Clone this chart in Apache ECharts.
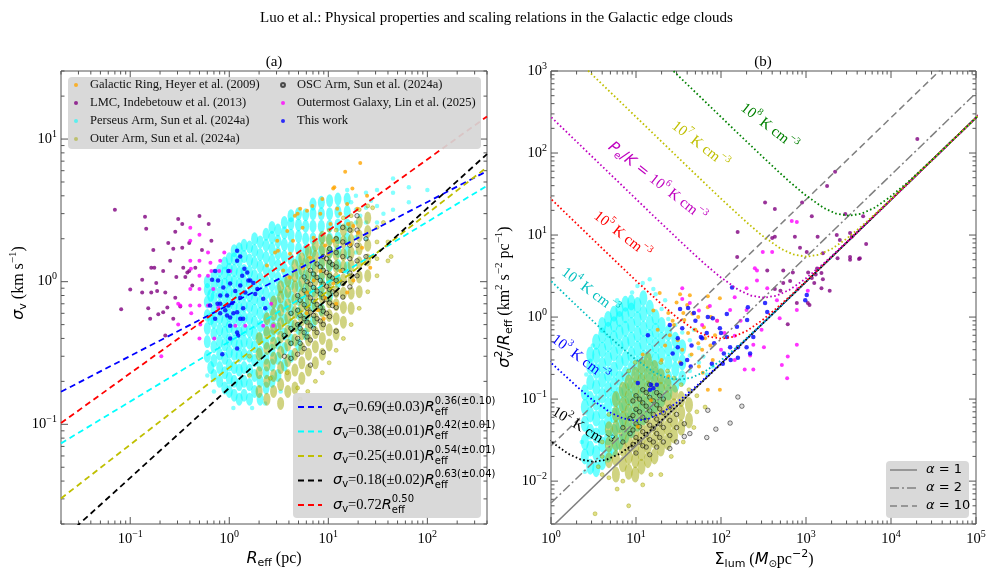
<!DOCTYPE html>
<html>
<head>
<meta charset="utf-8">
<title>Galactic edge clouds - scaling relations</title>
<script src="https://cdn.jsdelivr.net/npm/echarts@6/dist/echarts.min.js"></script>
<style>
  html, body { margin: 0; padding: 0; background: #fff; }
  #chart { width: 993px; height: 577px; }
</style>
</head>
<body>
<div id="chart"></div>
<script>
// ---------- panel (a): R_eff (pc) vs sigma_v (km/s) ----------
const ringA = [[21,6.8],[14.8,5.9],[11.5,4.6],[17.5,4.5],[8.7,3.8],[24.6,4.0],[6.9,3.4],[5.2,3.24],[12.3,3.24],[19.6,3.24],
  [4.6,2.9],[8.3,3.0],[13.2,3.0],[3.85,2.27],[5.5,2.39],[10.5,2.54],[17.9,2.46],[3.05,1.94],[4.4,1.94],[7.1,2.03],
  [11.2,1.94],[16.7,1.84],[2.9,1.6],[4.1,1.57],[6.6,1.47],[10,1.57],[21.9,1.73],[5.6,1.25],[8.3,1.19],[13.2,1.19],
  [4.1,1.07],[7.1,1.02],[11.2,0.97],[17.9,1.02],[26.5,1.25],[6.1,0.84],[9.3,0.77],[15.5,0.84],[7.9,0.63],[11.2,4.5],
  [6.1,3.14],[4.9,3.0],[3.1,1.65],[9.3,1.79],[15.5,3.5],[15.8,2.54],[9,0.55],[6,0.6],[12,0.7],[2.4,1.3],[3.5,1.2],[20,2.2]];
const lmcA = [[0.07,3.2],[0.081,0.64],[0.141,2.85],[0.145,2.35],[0.305,2.75],[0.335,2.54],[0.5,2.89],[0.62,2.54],[0.285,2.24],
  [0.242,1.87],[0.394,1.87],[0.171,1.67],[0.272,1.7],[0.335,1.73],[0.66,1.94],[0.53,1.67],[0.163,1.25],[0.175,1.25],
  [0.215,1.19],[0.253,1.4],[0.343,1.25],[0.36,1.08],[0.292,1.08],[0.132,1.03],[0.132,0.84],[0.1,0.88],[0.163,0.84],
  [0.187,0.86],[0.226,0.84],[0.394,1.19],[0.423,0.94],[0.152,0.65],[0.159,0.55],[0.192,0.59],[0.215,0.61],[0.226,0.42],
  [0.32,0.67],[0.237,0.66],[0.272,0.55],[0.454,1.25],[0.377,1.16],[0.183,0.98],[0.285,0.77]];
const outermostA = [[0.404,2.39],[0.404,1.94],[0.5,2.13],[0.61,1.6],[0.404,1.4],[0.5,1.4],[0.41,1.23],[0.5,1.1],[0.61,1.1],
  [0.404,0.89],[0.5,0.89],[0.69,0.89],[0.66,1.19],[0.79,1.19],[1.02,1.19],[0.32,0.68],[0.404,0.68],[0.5,0.68],[0.61,0.68],
  [0.89,1.6],[0.645,1.36],[0.81,1.4],[2.65,0.7],[0.305,0.5],[0.413,0.6],[0.51,0.5],[0.5,0.4],[0.705,0.4],[0.305,0.7],
  [0.206,0.3],[1.15,0.49],[1.45,0.49],[2.78,0.49],[2.2,0.49],[0.775,0.66]];
const thisWorkA = [[1.2,1.65],[1.29,1.5],[1.2,1.4],[0.72,1.19],[0.98,1.19],[1.42,1.23],[1.52,1.16],[1.35,1.1],[1.63,1.02],
  [1.75,0.98],[1.02,0.97],[0.87,0.91],[1.15,0.86],[1.45,0.84],[1.92,0.89],[0.81,0.8],[0.95,0.8],[1.29,0.77],[1.07,0.71],
  [0.76,0.7],[0.64,0.68],[0.91,0.63],[1.2,0.61],[1.38,0.65],[2.2,0.76],[2.31,0.65],[1.83,0.82],[0.81,0.6],[1.02,0.56],
  [1.29,0.55],[0.81,0.7],[0.95,0.58],[1.1,0.6],[1.38,0.55],[1.02,0.49],[1.2,0.44],[1.23,0.42],[1.02,0.4],[0.85,0.31],
  [1.2,0.34],[0.72,0.55],[0.98,0.68],[0.67,1.03],[0.77,1.02],[1.56,1.02],[1.29,0.94]];
// dense clouds, stored as columns: [R, [sigma values]]; sparse edge points kept apart
const perseusColsA = [
  [0.6,[0.3,0.38,0.47,0.58,0.72,0.88,1.0]], [0.65,[0.25,0.55,0.8]],
  [0.7,[0.22,0.28,0.35,0.43,0.52,0.63,0.77,0.93,1.1]],
  [0.8,[0.2,0.25,0.31,0.38,0.46,0.56,0.68,0.83,1.0,1.2]],
  [0.9,[0.18,0.23,0.29,0.36,0.44,0.53,0.65,0.79,0.96,1.15,1.35]],
  [1.0,[0.17,0.21,0.26,0.32,0.39,0.48,0.58,0.7,0.85,1.02,1.22,1.45]],
  [1.12,[0.16,0.2,0.25,0.31,0.38,0.46,0.56,0.68,0.82,1.0,1.2,1.45,1.65]],
  [1.26,[0.15,0.19,0.24,0.3,0.36,0.44,0.54,0.65,0.79,0.95,1.15,1.4,1.7]],
  [1.41,[0.16,0.2,0.25,0.31,0.38,0.46,0.56,0.68,0.82,1.0,1.2,1.5,1.8]],
  [1.6,[0.15,0.19,0.24,0.3,0.37,0.45,0.55,0.67,0.8,0.97,1.17,1.42,1.75]],
  [1.8,[0.17,0.22,0.28,0.35,0.43,0.52,0.63,0.76,0.92,1.1,1.35,1.65,2.0]],
  [2.05,[0.15,0.2,0.26,0.32,0.4,0.49,0.6,0.72,0.87,1.05,1.28,1.55,1.9]],
  [2.35,[0.18,0.23,0.29,0.37,0.46,0.56,0.68,0.83,1.0,1.22,1.48,1.8,2.15]],
  [2.7,[0.2,0.26,0.33,0.42,0.52,0.64,0.78,0.95,1.15,1.4,1.7,2.05,2.4]],
  [3.1,[0.22,0.29,0.37,0.47,0.58,0.71,0.87,1.06,1.3,1.58,1.92,2.3]],
  [3.6,[0.26,0.34,0.43,0.54,0.67,0.82,1.0,1.22,1.5,1.82,2.2,2.6]],
  [4.2,[0.3,0.39,0.5,0.63,0.78,0.96,1.17,1.43,1.75,2.12,2.55,2.9]],
  [5.0,[0.36,0.47,0.6,0.75,0.93,1.14,1.4,1.7,2.07,2.5,3.0]],
  [5.9,[0.43,0.56,0.71,0.89,1.1,1.35,1.65,2.0,2.45,2.95]],
  [7.0,[0.52,0.68,0.86,1.08,1.33,1.63,2.0,2.45,3.0,3.5]],
  [8.5,[0.64,0.83,1.05,1.32,1.63,2.0,2.45,3.0,3.6]],
  [10.3,[0.8,1.03,1.3,1.62,2.0,2.45,3.0,3.7]],
  [12.5,[1.0,1.3,1.63,2.03,2.5,3.1,3.8]],
  [15.5,[1.25,1.6,2.0,2.5,3.1,3.8]]
];
const perseusSparseA = [[15.5,4.4],[19,1.6],[19,2.05],[19,2.6],[19,3.2],[19,4.0],[24,2.0],[24,2.6],[24,3.3],[24,4.2],
  [31,2.6],[31,3.4],[31,4.4],[45,3.2],[45,4.2],[45,5.3],[65,3.6],[65,4.6],[100,4.4],[17,3.6],[21,2.9],[27,3.7],[36,3.0],
  [0.6,0.22],[0.7,0.17],[1.1,0.13],[1.7,0.13],[2.3,0.14],[3.3,0.17]];
const outerColsA = [
  [2.0,[0.17,0.23,0.31,0.4]], [2.4,[0.15,0.2,0.26,0.34,0.44,0.55]],
  [2.8,[0.17,0.22,0.29,0.37,0.47,0.59,0.72]],
  [3.3,[0.14,0.19,0.25,0.32,0.41,0.51,0.63,0.78,0.92]],
  [3.9,[0.17,0.22,0.28,0.36,0.45,0.56,0.69,0.85,1.02]],
  [4.6,[0.18,0.24,0.31,0.39,0.49,0.61,0.75,0.92,1.1,1.3]],
  [5.4,[0.21,0.27,0.34,0.43,0.54,0.67,0.82,1.0,1.22,1.45]],
  [6.3,[0.24,0.31,0.39,0.49,0.61,0.75,0.92,1.12,1.36,1.62]],
  [7.4,[0.27,0.35,0.44,0.55,0.68,0.84,1.03,1.25,1.5,1.8]],
  [8.7,[0.31,0.4,0.5,0.62,0.77,0.94,1.15,1.4,1.7,2.05]],
  [10.2,[0.36,0.46,0.58,0.72,0.88,1.08,1.32,1.6,1.95]],
  [12,[0.43,0.55,0.69,0.85,1.05,1.28,1.56,1.9]],
  [14.2,[0.52,0.66,0.83,1.03,1.27,1.55,1.9,2.3]],
  [17,[0.65,0.83,1.04,1.3,1.6,1.95,2.4]],
  [20.5,[0.85,1.08,1.36,1.7,2.1,2.6]],
  [25,[1.1,1.42,1.8,2.25,2.8]]
];
const outerSparseA = [[1.6,0.22],[1.6,0.3],[40,1.4],[40,1.9],[31,1.1],[31,1.45],[31,1.9],[31,2.4],[5.2,0.15],[6.2,0.17],
  [7.4,0.2],[8.7,0.23],[10.2,0.27],[12,0.33],[14.2,0.4],[17,0.5],[20.5,0.65],[25,0.85],[10.2,2.3],[12,2.3],[14.2,2.8],
  [17,2.9],[20.5,3.2],[25,3.4],[28,3.3],[36,2.6],[43,1.5],[4.9,0.18],[3.85,0.23],[2.6,0.21]];
const oscColsA = [
  [3.6,[0.3,0.42]], [4.2,[0.29,0.37,0.47,0.6]], [4.9,[0.31,0.4,0.5,0.63,0.8]],
  [5.7,[0.34,0.44,0.55,0.69,0.87,1.08]], [6.6,[0.26,0.39,0.49,0.61,0.77,0.96,1.2]],
  [7.7,[0.44,0.55,0.69,0.86,1.07,1.33]], [8.9,[0.32,0.5,0.62,0.77,0.96,1.2,1.5]],
  [10.3,[0.57,0.71,0.88,1.1,1.37,1.7]], [12,[0.45,0.66,0.82,1.02,1.27,1.6,2.0]],
  [14,[0.78,0.97,1.2,1.5,1.9,2.4]], [16.5,[0.92,1.15,1.45,1.8,2.3]],
  [19.5,[1.1,1.4,1.8,2.3,2.9]], [24,[1.5,2.0]],
  [5.2,[0.37,0.47,0.58,0.74]], [6.1,[0.41,0.52,0.65,0.82,1.0]], [7.1,[0.47,0.58,0.73,0.91,1.13]],
  [8.3,[0.53,0.66,0.82,1.02,1.27]], [9.6,[0.6,0.75,0.93,1.16,1.45]], [11,[0.68,0.85,1.06,1.32]]
];
// fitted relations, end points of each dashed line
const fitThis = [[0.02,0.169],[400,5.96]];
const fitPerseus = [[0.02,0.0735],[400,4.70]];
const fitOuter = [[0.02,0.0302],[400,6.35]];
const fitOsc = [[0.02,0.0153],[400,7.85]];
const fitLarson = [[0.02,0.102],[400,14.4]];

// ---------- panel (b): Sigma_lum vs sigma_v^2/R_eff ----------
const ringB = [[19,1.96],[43,1.85],[70,1.32],[97,1.7],[36,1.12],[54,1.0],[24,1.12],[37,0.92],[63,0.75],[76,1.0],[41,0.64],
  [54,0.48],[31,0.52],[20,0.3],[24,0.19],[15,0.097],[97,0.13],[70,0.13],[61,0.21],[28,0.8],[45,0.35],[33,0.28],[60,0.4],
  [85,0.6],[50,0.7],[25,0.6],[40,1.4],[65,0.55],[80,0.3],[30,1.5],[18,0.7],[22,0.45],[12,0.35],[90,0.9],[35,0.4],[46,1.1],
  [27,0.9],[55,0.25],[75,0.45],[16,1.2],[33,1.9],[70,1.8],[10.5,0.046]];
const lmcB = [[20400,148],[2200,59],[1770,39.5],[330,25],[900,25],[430,20.8],[1170,17],[2900,18],[4700,17],[157,10.9],
  [740,9.5],[430,9.5],[1370,9.5],[2300,10],[3300,10.6],[1020,6.2],[1580,6.0],[2350,5.2],[3300,5.4],[4300,5.2],[5100,7.8],
  [155,5.4],[350,3.7],[540,3.7],[650,2.75],[1060,3.5],[1170,3.0],[1580,2.9],[430,2.2],[1520,2.25],[1900,2.1],[1100,1.4],
  [780,1.48],[540,2.6],[500,2.1],[2500,8.7],[3450,9.5],[400,9.2],[700,3.5],[850,7],[3300,5.0],[4200,5.1],[1520,3.45],
  [610,0.82],[1050,1.48],[1300,3.3],[1250,2.6],[1350,3.9]];
const outermostB = [[780,14.4],[400,6.2],[250,3.95],[145,1.75],[265,2.8],[350,2.25],[455,1.6],[1050,2.1],[780,1.22],[490,0.97],
  [240,0.46],[780,0.46],[35,2.25],[35,1.66],[145,0.59],[680,14.8],[310,6.2],[200,2.25],[265,3.7],[800,2.2],[145,0.3],
  [190,0.23],[240,0.23],[520,0.26],[610,0.33],[600,0.18],[220,0.34],[320,0.43],[110,0.64],[43,1.48],[74,1.36],[128,1.22],
  [200,1.22],[90,0.9],[60,0.8],[170,0.9],[300,0.7],[100,0.4],[55,1.2]];
const thisWorkB = [[13.8,0.6],[31,0.43],[27,0.36],[34,0.27],[44,0.25],[58,0.57],[83,0.48],[100,0.64],[108,0.36],[130,0.3],
  [158,0.43],[15,0.15],[16,0.136],[10.5,0.157],[41,1.29],[35,0.73],[68,0.64],[97,0.73],[117,0.57],[154,0.76],[203,0.92],
  [240,0.57],[1020,1.86],[980,1.6],[350,1.15],[60,0.55],[128,0.43],[200,0.43],[33,1.25],[48,1.12],[80,0.97],[117,1.09],
  [135,2.3],[330,1.48],[207,1.32],[78,0.27],[105,0.27],[158,0.32],[220,0.36],[31,0.55],[40,0.3],[17.6,0.15],[14.6,0.13],
  [50,0.9],[70,1.0],[25,0.8],[45,0.45]];
const perseusColsB = [
  [2.5,[0.02,0.03,0.05,0.08,0.12]], [2.9,[0.015,0.025,0.04,0.065,0.1,0.16,0.25,0.35]],
  [3.4,[0.014,0.022,0.036,0.058,0.09,0.14,0.22,0.34,0.5]],
  [4.0,[0.017,0.028,0.045,0.07,0.11,0.17,0.26,0.4,0.6,0.8]],
  [4.7,[0.021,0.034,0.054,0.085,0.13,0.2,0.31,0.47,0.7,0.95]],
  [5.5,[0.025,0.04,0.063,0.1,0.15,0.23,0.36,0.55,0.82,1.1]],
  [6.4,[0.03,0.048,0.075,0.115,0.18,0.28,0.43,0.65,0.95,1.25]],
  [7.5,[0.036,0.056,0.087,0.13,0.2,0.31,0.48,0.72,1.05,1.45]],
  [8.8,[0.042,0.065,0.1,0.15,0.23,0.35,0.53,0.8,1.2,1.5]],
  [10.4,[0.05,0.077,0.12,0.18,0.27,0.41,0.62,0.94,1.4]],
  [12.2,[0.06,0.09,0.14,0.21,0.32,0.48,0.72,1.1,1.7]],
  [14.5,[0.072,0.11,0.17,0.25,0.38,0.57,0.85,1.3]],
  [17,[0.085,0.13,0.2,0.3,0.45,0.68,1.0]],
  [20,[0.1,0.15,0.23,0.35,0.53,0.8]],
  [24,[0.12,0.18,0.28,0.42,0.64]], [29,[0.15,0.23,0.35,0.53]],
  [35,[0.18,0.28,0.43]]
];
const perseusSparseB = [[68,0.2],[55,0.28],[55,0.42],[43,0.22],[43,0.34],[43,0.52],[10.4,2.4],[14.5,2.9],[17,1.9],
  [2.5,0.013],[20,1.25],[24,0.95],[29,0.8],[35,0.65],[12,2.6],[16,2.2],[9,2.0],[22,1.6],[2.3,0.03],[2.6,0.2],
  [3.1,0.45],[6,1.6],[48,0.7],[62,0.33],[80,0.25]];
const outerColsB = [
  [4.8,[0.018,0.028,0.043]],
  [5.8,[0.012,0.019,0.029,0.044,0.066,0.1]], [7,[0.016,0.025,0.038,0.057,0.085,0.13]],
  [8.2,[0.013,0.02,0.031,0.047,0.07,0.105,0.16]],
  [9.8,[0.012,0.018,0.027,0.04,0.06,0.09,0.135,0.2]],
  [11.6,[0.015,0.022,0.033,0.05,0.074,0.11,0.165,0.25]],
  [13.8,[0.018,0.027,0.04,0.06,0.09,0.135,0.2,0.3]],
  [16.5,[0.02,0.031,0.047,0.07,0.105,0.16,0.24]],
  [19.6,[0.025,0.038,0.057,0.085,0.13,0.19]],
  [23.5,[0.03,0.045,0.068,0.1,0.15]], [28,[0.036,0.054,0.082,0.12]],
  [34,[0.045,0.068,0.1]], [42,[0.055,0.085]]
];
const outerSparseB = [[3.3,0.004],[8.2,0.005],[19.6,0.012],[65,0.08],[52,0.07],[52,0.11],[4,0.012],[4,0.02],[4,0.03],
  [4.8,0.011],[4.8,0.065],[7,0.01],[8.2,0.22],[9.8,0.28],[19.6,0.28],[23.5,0.22],[28,0.18],[34,0.15],[42,0.13],
  [6,0.008],[12,0.009],[15,0.012],[26,0.02],[36,0.03],[48,0.045],[3.6,0.015]];
const oscColsB = [
  [7,[0.03,0.045]], [8.5,[0.025,0.038,0.058]], [10,[0.022,0.034,0.05,0.075,0.11]],
  [12,[0.027,0.04,0.06,0.09,0.13]], [14.5,[0.021,0.032,0.048,0.072,0.105,0.15]],
  [17.5,[0.026,0.038,0.057,0.085,0.12]], [21,[0.03,0.045,0.068,0.1]],
  [25,[0.025,0.036,0.055,0.08]], [30,[0.03,0.045,0.065]], [37,[0.035,0.05]],
  [9.2,[0.028,0.042,0.063,0.095]], [11,[0.03,0.046,0.07,0.1]], [13.2,[0.026,0.037,0.055,0.082,0.12]],
  [16,[0.03,0.044,0.065,0.095]], [19,[0.034,0.05,0.076,0.11]],
  [43,[0.038]], [68,[0.034]], [70,[0.073]], [87,[0.043]], [128,[0.051]], [158,[0.106]], [176,[0.082]]
];
// virial lines (alpha = 1, 2, 10)
const alpha1 = [[1,0.0027],[100000,270]];
const alpha2 = [[1,0.0054],[100000,540]];
const alpha10 = [[1,0.027],[100000,2700]];
// external pressure curves, P_e/K = 1e2 ... 1e8 K cm^-3
const p2Curve = [[0.8,0.0366],[0.96,0.0313],[1.6,0.0215],[2.24,0.0183],[3.2,0.0172],[4.48,0.0182],[6.4,0.0215],[9.6,0.0287],
  [16,0.0447],[32,0.0869],[96,0.258],[320,0.86],[3200,8.6],[32000,86],[128000,344]];
const p3Curve = [[0.808,0.343],[1.01,0.275],[1.52,0.186],[2.02,0.142],[3.03,0.099],[5.05,0.0681],[7.07,0.058],[10.1,0.0545],
  [14.1,0.0576],[20.2,0.0681],[30.3,0.0908],[50.5,0.142],[101,0.275],[303,0.819],[1010,2.73],[10100,27.3],[121200,327]];
const p4Curve = [[0.8,3.44],[0.96,2.87],[1.6,1.72],[3.2,0.869],[4.8,0.586],[6.4,0.447],[9.6,0.3125],[16,0.215],[22.4,0.183],
  [32,0.172],[44.8,0.182],[64,0.215],[96,0.287],[160,0.447],[320,0.869],[960,2.58],[3200,8.6],[128000,344]];
const p5Curve = [[0.808,34.1],[1.01,27.3],[3.03,9.09],[5.05,5.46],[10.1,2.75],[15.2,1.86],[20.2,1.42],[30.3,0.99],[50.5,0.681],
  [70.7,0.58],[101,0.545],[141,0.576],[202,0.681],[303,0.908],[505,1.42],[1010,2.75],[3030,8.19],[10100,27.3],[121200,327]];
const p6Curve = [[0.8,344],[0.96,287],[3.2,86],[9.6,28.7],[16,17.2],[32,8.69],[48,5.86],[64,4.47],[96,3.13],[160,2.15],
  [224,1.83],[320,1.72],[448,1.82],[640,2.15],[960,2.87],[1600,4.47],[3200,8.69],[9600,25.8],[128000,344]];
const p7Curve = [[2.53,1090],[3.03,908],[10.1,273],[30.3,90.9],[50.5,54.6],[101,27.5],[152,18.6],[202,14.2],[303,9.9],
  [505,6.81],[707,5.8],[1010,5.45],[1414,5.76],[2020,6.81],[3030,9.08],[5050,14.2],[10100,27.5],[30300,81.9],[121200,327]];
const p8Curve = [[25.6,1075],[32,860],[96,287],[160,172],[320,86.9],[480,58.6],[640,44.7],[960,31.3],[1600,21.5],
  [2240,18.3],[3200,17.2],[4480,18.2],[6400,21.5],[9600,28.7],[16000,44.7],[32000,86.9],[128000,344]];

const names = ['Galactic Ring, Heyer et al. (2009)', 'LMC, Indebetouw et al. (2013)', 'Perseus Arm, Sun et al. (2024a)',
  'Outer Arm, Sun et al. (2024a)', 'OSC Arm, Sun et al. (2024a)', 'Outermost Galaxy, Lin et al. (2025)', 'This work'];

const SERIF = 'Liberation Serif';
const SANS = 'DejaVu Sans';
const flat = cols => cols.flatMap(c => c[1].map(y => [c[0], y]));

// ---------- text with sub/superscripts, laid out with measured widths ----------
const mctx = document.createElement('canvas').getContext('2d');
function fontStr(p) { return (p.it ? 'italic ' : '') + p.s + 'px "' + p.f + '"'; }
function mathText(pieces, x, y, opt) {
  opt = opt || {};
  let cx = 0, pending = 0;
  const kids = [];
  pieces.forEach(p => {
    mctx.font = fontStr(p);
    const w = mctx.measureText(p.t).width;
    kids.push({ type: 'text', x: cx, y: p.dy || 0, z: opt.z || 10,
      style: { text: p.t, font: fontStr(p), fill: opt.color || '#000',
        align: 'left', textAlign: 'left', verticalAlign: 'middle', textVerticalAlign: 'middle' } });
    if (p.stack) { pending = w; } else { cx += Math.max(w, pending); pending = 0; }
  });
  if (opt.center) kids.forEach(k => { k.x -= cx / 2; });
  return { type: 'group', x: x, y: y, rotation: opt.rot || 0, z: opt.z || 10, children: kids };
}
const T = (t, f, s, o) => Object.assign({ t: t, f: f, s: s }, o || {});

// ---------- tick marks on all four sides (matplotlib style, inward) ----------
function tickList(xmin, xmax, ymin, ymax) {
  const out = [];
  for (let e = -3; e <= 5; e++) {
    for (let m = 1; m <= 9; m++) {
      const v = +(m * Math.pow(10, e)).toPrecision(6);
      if (v >= xmin * 0.999 && v <= xmax * 1.001) out.push([v, ymin, 0, m === 1 ? 1 : 0]);
      if (v >= ymin * 0.999 && v <= ymax * 1.001) out.push([xmin, v, 1, m === 1 ? 1 : 0]);
    }
  }
  return out;
}
function tickSeries(gi, data) {
  return {
    type: 'custom', xAxisIndex: gi, yAxisIndex: gi, data: data, silent: true, z: 3,
    renderItem: function (params, api) {
      const cs = params.coordSys;
      const L = api.value(3) ? 7 : 3.5;
      const p = api.coord([api.value(0), api.value(1)]);
      const st = { stroke: '#555', lineWidth: 1 };
      if (api.value(2) === 0) {
        return { type: 'group', children: [
          { type: 'line', shape: { x1: p[0], y1: cs.y + cs.height, x2: p[0], y2: cs.y + cs.height - L }, style: st },
          { type: 'line', shape: { x1: p[0], y1: cs.y, x2: p[0], y2: cs.y + L }, style: st }] };
      }
      return { type: 'group', children: [
        { type: 'line', shape: { x1: cs.x, y1: p[1], x2: cs.x + L, y2: p[1] }, style: st },
        { type: 'line', shape: { x1: cs.x + cs.width, y1: p[1], x2: cs.x + cs.width - L, y2: p[1] }, style: st }] };
    }
  };
}

function powLabel(v) {
  const e = Math.log10(v);
  const r = Math.round(e);
  if (Math.abs(e - r) > 1e-6) return '';
  return '{b|10}{s|' + (r < 0 ? '\u2212' + (-r) : r) + '}';
}
const labelRich = {
  b: { fontFamily: SERIF, fontSize: 14.5, lineHeight: 20, color: '#000' },
  s: { fontFamily: SERIF, fontSize: 10, lineHeight: 10, verticalAlign: 'top', color: '#000' }
};
function logAxis(gi, min, max, isX) {
  return {
    gridIndex: gi, type: 'log', logBase: 10, min: min, max: max,
    axisLine: { show: false }, axisTick: { show: false }, splitLine: { show: false },
    axisLabel: { formatter: powLabel, rich: labelRich, margin: isX ? 5 : 4 }
  };
}

const stPerseus = { color: 'rgba(0,255,255,0.72)' };
const stPerseusDot = { color: 'rgba(0,255,255,0.6)' };
const stOuter = { color: 'rgba(160,165,0,0.62)' };
const stOuterDot = { color: 'rgba(190,190,0,0.6)', borderColor: 'rgba(150,150,0,0.8)', borderWidth: 0.6 };
const stOsc = { color: 'rgba(60,60,60,0.2)', borderColor: 'rgba(0,0,0,0.8)', borderWidth: 0.8 };
const stRing = { color: '#ffa500' };
const stLmc = { color: '#800080' };
const stOutermost = { color: '#ff00ff' };
const stThis = { color: '#0000ff' };

function scat(name, data, gi, st, size) {
  return { name: name, type: 'scatter', xAxisIndex: gi, yAxisIndex: gi, data: data,
    symbolSize: size || 4, itemStyle: st, silent: true, z: 2 };
}
function line(data, gi, color, type, width) {
  return { type: 'line', xAxisIndex: gi, yAxisIndex: gi, data: data, symbol: 'none', silent: true, z: 4,
    lineStyle: { color: color, width: width || 1.8, type: type } };
}
const dot = [1.6, 2.4];

const series = [
  scat(names[2], flat(perseusColsA), 0, stPerseus, [7, 13]),
  scat(names[2], perseusSparseA, 0, stPerseusDot, 4.5),
  scat(names[3], flat(outerColsA), 0, stOuter, [7, 13]),
  scat(names[3], outerSparseA, 0, stOuterDot, 4),
  scat(names[4], flat(oscColsA), 0, stOsc, 4.5),
  scat(names[0], ringA, 0, stRing),
  scat(names[1], lmcA, 0, stLmc),
  scat(names[5], outermostA, 0, stOutermost),
  scat(names[6], thisWorkA, 0, stThis, 4.5),
  line(fitThis, 0, '#0000ff', [6, 4]),
  line(fitPerseus, 0, '#00ffff', [6, 4]),
  line(fitOuter, 0, '#bfbf00', [6, 4]),
  line(fitOsc, 0, '#000000', [6, 4]),
  line(fitLarson, 0, '#ff0000', [6, 4]),

  scat(names[2], flat(perseusColsB), 1, stPerseus, [8, 16]),
  scat(names[2], perseusSparseB, 1, stPerseusDot, 4.5),
  scat(names[3], flat(outerColsB), 1, stOuter, [8, 16]),
  scat(names[3], outerSparseB, 1, stOuterDot, 4),
  scat(names[4], flat(oscColsB), 1, stOsc, 4.5),
  scat(names[0], ringB, 1, stRing),
  scat(names[1], lmcB, 1, stLmc),
  scat(names[5], outermostB, 1, stOutermost),
  scat(names[6], thisWorkB, 1, stThis, 4.5),
  line(alpha1, 1, '#808080', 'solid', 1.5),
  line(alpha2, 1, '#808080', [9, 3, 2, 3], 1.5),
  line(alpha10, 1, '#808080', [7, 4], 1.5),
  line(p2Curve, 1, '#000000', dot),
  line(p3Curve, 1, '#0000ff', dot),
  line(p4Curve, 1, '#00bfbf', dot),
  line(p5Curve, 1, '#ff0000', dot),
  line(p6Curve, 1, '#bf00bf', dot),
  line(p7Curve, 1, '#bfbf00', dot),
  line(p8Curve, 1, '#008000', dot),
  tickSeries(0, tickList(0.02, 400, 0.02, 30)),
  tickSeries(1, tickList(1, 100000, 0.003, 1000))
];

// ---------- legends and annotations ----------
const graphics = [];
graphics.push({ type: 'rect', shape: { x: 68, y: 77, width: 413, height: 72, r: 4 }, z: 5,
  style: { fill: 'rgba(214,214,214,0.92)' } });
graphics.push({ type: 'rect', shape: { x: 293, y: 393, width: 188, height: 125, r: 4 }, z: 5,
  style: { fill: 'rgba(214,214,214,0.92)' } });
graphics.push({ type: 'rect', shape: { x: 886, y: 461, width: 83, height: 57, r: 4 }, z: 5,
  style: { fill: 'rgba(214,214,214,0.92)' } });

const eqRows = [
  ['#0000ff', '=0.69(\u00b10.03)', '0.36(\u00b10.10)'],
  ['#00ffff', '=0.38(\u00b10.01)', '0.42(\u00b10.01)'],
  ['#bfbf00', '=0.25(\u00b10.01)', '0.54(\u00b10.01)'],
  ['#000000', '=0.18(\u00b10.02)', '0.63(\u00b10.04)'],
  ['#ff0000', '=0.72', '0.50']
];
eqRows.forEach((r, i) => {
  const y = 407 + i * 24.5;
  graphics.push({ type: 'line', z: 6, shape: { x1: 298, y1: y, x2: 322, y2: y },
    style: { stroke: r[0], lineWidth: 1.8, lineDash: [6, 4] } });
  graphics.push(mathText([
    T('\u03c3', SANS, 14.5, { it: true }), T('v', SANS, 10, { dy: 4 }), T(r[1], SERIF, 14.5),
    T('R', SANS, 14.5, { it: true }), T('eff', SANS, 10, { dy: 5, stack: true }), T(r[2], SANS, 10, { dy: -6 })
  ], 333, y, { z: 6 }));
});

const alphaRows = [['1', []], ['2', [9, 3, 2, 3]], ['10', [7, 4]]];
alphaRows.forEach((r, i) => {
  const y = 470 + i * 18;
  graphics.push({ type: 'line', z: 6, shape: { x1: 890, y1: y, x2: 917, y2: y },
    style: { stroke: '#808080', lineWidth: 1.5, lineDash: r[1].length ? r[1] : null } });
  graphics.push(mathText([T('\u03b1', SANS, 13, { it: true }), T(' = ' + r[0], SANS, 13)], 926, y, { z: 6 }));
});

// axis titles
graphics.push(mathText([T('R', SANS, 16, { it: true }), T('eff', SANS, 11, { dy: 4 }), T(' (pc)', SERIF, 16)],
  274, 559, { center: true }));
graphics.push(mathText([T('\u03c3', SANS, 16, { it: true }), T('v', SANS, 11, { dy: 4 }), T(' (km s', SERIF, 16),
  T('\u22121', SERIF, 11, { dy: -6 }), T(')', SERIF, 16)], 19, 283, { center: true, rot: Math.PI / 2 }));
graphics.push(mathText([T('\u03a3', SANS, 16), T('lum', SANS, 11, { dy: 4 }), T(' (', SERIF, 16),
  T('M', SANS, 16, { it: true }), T('\u2299', SANS, 10, { dy: 4 }), T('pc', SERIF, 16),
  T('\u22122', SANS, 11, { dy: -6 }), T(')', SERIF, 16)], 764, 560, { center: true }));
graphics.push(mathText([T('\u03c3', SANS, 16, { it: true }), T('2', SANS, 11, { dy: -6, stack: true }),
  T('v', SANS, 11, { dy: 5 }), T('/', SANS, 16), T('R', SANS, 16, { it: true }), T('eff', SANS, 11, { dy: 4 }),
  T(' (km', SERIF, 16), T('2', SERIF, 11, { dy: -6 }), T(' s', SERIF, 16), T('\u22122', SERIF, 11, { dy: -6 }),
  T(' pc', SERIF, 16), T('\u22121', SERIF, 11, { dy: -6 }), T(')', SERIF, 16)], 505, 297, { center: true, rot: Math.PI / 2 }));

graphics.push(mathText([T('(a)', SERIF, 15)], 274, 62, { center: true }));
graphics.push(mathText([T('(b)', SERIF, 15)], 763, 62, { center: true }));

// pressure labels
const kcm = exp => [T('10', SERIF, 15), T(exp, SERIF, 10, { dy: -6 }), T(' K cm', SERIF, 15), T('\u22123', SERIF, 10, { dy: -6 })];
const deg = d => -d * Math.PI / 180;
graphics.push(mathText(kcm('8'), 769, 127, { center: true, rot: deg(38), color: '#008000' }));
graphics.push(mathText(kcm('7'), 700, 145, { center: true, rot: deg(38), color: '#bfbf00' }));
graphics.push(mathText([T('P', SANS, 15, { it: true }), T('e', SANS, 10, { dy: 4 }), T('/', SANS, 15),
  T('K', SANS, 15, { it: true }), T(' = ', SANS, 15)].concat(kcm('6')), 657, 182, { center: true, rot: deg(38), color: '#bf00bf' }));
graphics.push(mathText(kcm('5'), 622, 235, { center: true, rot: deg(38), color: '#ff0000' }));
graphics.push(mathText(kcm('4'), 590, 291, { center: true, rot: deg(37), color: '#00bfbf' }));
graphics.push(mathText(kcm('3'), 580, 358, { center: true, rot: deg(37), color: '#0000ff' }));
graphics.push(mathText(kcm('2'), 582, 428, { center: true, rot: deg(31), color: '#000000' }));

const legendBase = {
  orient: 'vertical', itemWidth: 18, itemHeight: 4, itemGap: 0, icon: 'circle', top: 76, z: 7,
  selectedMode: false, padding: 0,
  textStyle: { fontFamily: SERIF, fontSize: 12.5, color: '#111', lineHeight: 18 }
};

const chart = echarts.init(document.getElementById('chart'));
chart.setOption({
  backgroundColor: '#fff',
  animation: false,
  title: { text: 'Luo et al.: Physical properties and scaling relations in the Galactic edge clouds',
    left: 'center', top: 6, textStyle: { fontFamily: SERIF, fontSize: 15, fontWeight: 'normal', color: '#000' } },
  grid: [
    { left: 61, top: 71, width: 426, height: 453, show: true, borderColor: '#555', borderWidth: 1, backgroundColor: 'transparent' },
    { left: 551, top: 71, width: 425, height: 453, show: true, borderColor: '#555', borderWidth: 1, backgroundColor: 'transparent' }
  ],
  xAxis: [logAxis(0, 0.02, 400, true), logAxis(1, 1, 100000, true)],
  yAxis: [logAxis(0, 0.02, 30, false), logAxis(1, 0.003, 1000, false)],
  legend: [
    Object.assign({}, legendBase, { left: 74, data: names.slice(0, 4) }),
    Object.assign({}, legendBase, { left: 280, data: names.slice(4) })
  ],
  graphic: { elements: graphics },
  series: series
});
</script>
</body>
</html>
